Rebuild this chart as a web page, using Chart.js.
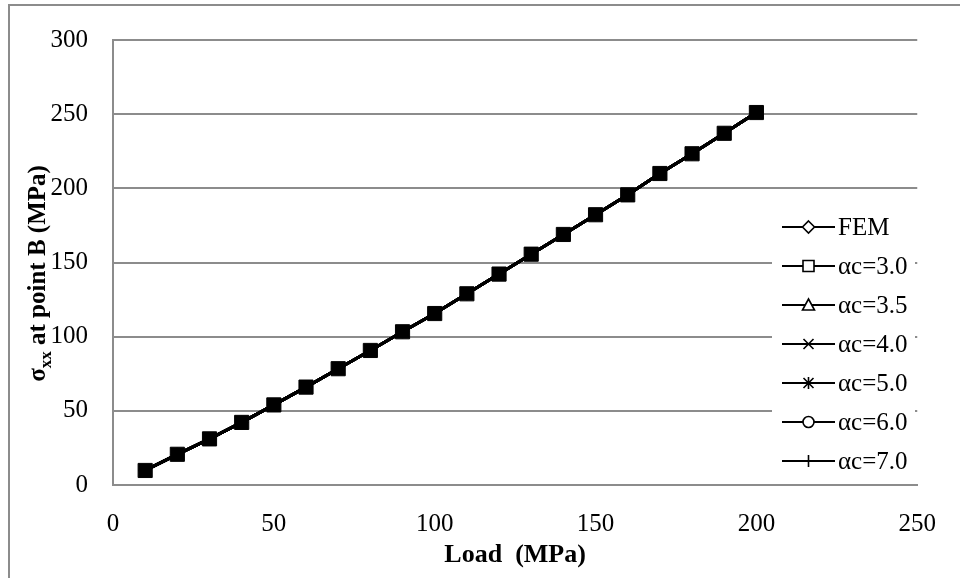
<!DOCTYPE html>
<html>
<head>
<meta charset="utf-8">
<script src="https://cdn.jsdelivr.net/npm/chart.js@4.4.1/dist/chart.umd.min.js"></script>
<style>
html,body{margin:0;padding:0;background:#fff;}
#wrap{width:960px;height:578px;position:relative;}
</style>
</head>
<body>
<div id="wrap"><canvas id="c" width="960" height="578"></canvas></div>
<script>
// ---- data ----
const loads = [10,20,30,40,50,60,70,80,90,100,110,120,130,140,150,160,170,180,190,200];
const fem   = [9.8,20.7,31.1,42.2,54.0,66.0,78.4,90.7,103.3,115.6,128.9,142.2,155.6,168.9,182.2,195.6,210.0,223.3,237.1,251.1];
const ac30  = [9.8,20.7,31.1,42.2,54.0,66.0,78.4,90.7,103.3,115.6,128.9,142.2,155.6,168.9,182.2,195.6,210.0,223.3,237.1,251.1];
const ac35  = [9.8,20.7,31.1,42.2,54.0,66.0,78.4,90.7,103.3,115.6,128.9,142.2,155.6,168.9,182.2,195.6,210.0,223.3,237.1,251.1];
const ac40  = [9.8,20.7,31.1,42.2,54.0,66.0,78.4,90.7,103.3,115.6,128.9,142.2,155.6,168.9,182.2,195.6,210.0,223.3,237.1,251.1];
const ac50  = [9.8,20.7,31.1,42.2,54.0,66.0,78.4,90.7,103.3,115.6,128.9,142.2,155.6,168.9,182.2,195.6,210.0,223.3,237.1,251.1];
const ac60  = [9.8,20.7,31.1,42.2,54.0,66.0,78.4,90.7,103.3,115.6,128.9,142.2,155.6,168.9,182.2,195.6,210.0,223.3,237.1,251.1];
const ac70  = [9.8,20.7,31.1,42.2,54.0,66.0,78.4,90.7,103.3,115.6,128.9,142.2,155.6,168.9,182.2,195.6,210.0,223.3,237.1,251.1];
const seriesNames = ['FEM','\u03b1c=3.0','\u03b1c=3.5','\u03b1c=4.0','\u03b1c=5.0','\u03b1c=6.0','\u03b1c=7.0'];
const seriesValues = [fem, ac30, ac35, ac40, ac50, ac60, ac70];
const markerStyles = ['rectRot','rect','triangle','crossRot','star','circle','cross'];
const xTitle = 'Load  (MPa)';
const yTitleMain = '\u03c3';
const yTitleSub = 'xx';
const yTitleRest = ' at point B (MPa)';

const GRID = '#8c8c8c';
const SERIF = "'Liberation Serif','Times New Roman',serif";

const datasets = seriesNames.map((name, i) => ({
  label: name,
  data: loads.map((x, j) => ({x: x, y: seriesValues[i][j]})),
  borderColor: '#000',
  borderWidth: 3,
  pointStyle: markerStyles[i],
  pointRadius: markerStyles[i] === 'rect' ? 10 : 6,
  pointBackgroundColor: '#000',
  pointBorderColor: '#000',
  pointBorderWidth: 1,
  fill: false,
  tension: 0
}));

function drawMarker(ctx, style, x, y) {
  ctx.save();
  ctx.strokeStyle = '#000';
  ctx.fillStyle = '#fff';
  ctx.lineWidth = 1.6;
  const r = 6;
  ctx.beginPath();
  switch (style) {
    case 'rectRot':
      ctx.moveTo(x, y - r); ctx.lineTo(x + r, y); ctx.lineTo(x, y + r); ctx.lineTo(x - r, y); ctx.closePath();
      ctx.fill(); ctx.stroke(); break;
    case 'rect':
      ctx.rect(x - 5.5, y - 5.5, 11, 11); ctx.fill(); ctx.stroke(); break;
    case 'triangle':
      ctx.moveTo(x, y - 6); ctx.lineTo(x + 6, y + 5); ctx.lineTo(x - 6, y + 5); ctx.closePath();
      ctx.fill(); ctx.stroke(); break;
    case 'crossRot':
      ctx.moveTo(x - 5, y - 5); ctx.lineTo(x + 5, y + 5); ctx.moveTo(x + 5, y - 5); ctx.lineTo(x - 5, y + 5);
      ctx.stroke(); break;
    case 'star':
      ctx.moveTo(x - 5, y - 5); ctx.lineTo(x + 5, y + 5); ctx.moveTo(x + 5, y - 5); ctx.lineTo(x - 5, y + 5);
      ctx.moveTo(x, y - 6); ctx.lineTo(x, y + 6);
      ctx.stroke(); break;
    case 'circle':
      ctx.arc(x, y, 5.5, 0, Math.PI * 2); ctx.fill(); ctx.stroke(); break;
    case 'cross':
      ctx.moveTo(x, y - 6); ctx.lineTo(x, y + 6);
      ctx.stroke(); break;
  }
  ctx.restore();
}

const decor = {
  id: 'decor',
  beforeDraw(chart) {
    const ctx = chart.ctx;
    ctx.save();
    ctx.fillStyle = '#fff';
    ctx.fillRect(0, 0, chart.width, chart.height);
    ctx.strokeStyle = GRID;
    ctx.lineWidth = 2;
    ctx.strokeRect(9, 5, 1200, 1200);
    ctx.restore();
  },
  afterDraw(chart) {
    const ctx = chart.ctx;
    const ca = chart.chartArea;
    ctx.save();
    // x title
    ctx.fillStyle = '#000';
    ctx.font = 'bold 26px ' + SERIF;
    ctx.textAlign = 'center';
    ctx.textBaseline = 'middle';
    ctx.fillText(xTitle, (ca.left + ca.right) / 2, 555);
    // y title with subscript
    const mainFont = 'bold 25px ' + SERIF;
    const subFont = 'bold 17px ' + SERIF;
    ctx.font = mainFont; const w1 = ctx.measureText(yTitleMain).width;
    const w3 = ctx.measureText(yTitleRest).width;
    ctx.font = subFont; const w2 = ctx.measureText(yTitleSub).width;
    const total = w1 + w2 + w3;
    ctx.translate(36, (ca.top + ca.bottom) / 2 + 11);
    ctx.rotate(-Math.PI / 2);
    ctx.textAlign = 'left';
    ctx.textBaseline = 'alphabetic';
    let px = -total / 2;
    const base = 9;
    ctx.font = mainFont; ctx.fillText(yTitleMain, px, base); px += w1;
    ctx.font = subFont; ctx.fillText(yTitleSub, px, base + 6); px += w2;
    ctx.font = mainFont; ctx.fillText(yTitleRest, px, base);
    ctx.restore();

    // legend inside plot area
    ctx.save();
    ctx.fillStyle = '#fff';
    ctx.fillRect(772, 207, 143, 274);
    const rowY0 = 227, rowGap = 39;
    seriesNames.forEach((name, i) => {
      const y = rowY0 + i * rowGap;
      ctx.strokeStyle = '#000';
      ctx.lineWidth = 2;
      ctx.beginPath(); ctx.moveTo(782, y); ctx.lineTo(835, y); ctx.stroke();
      drawMarker(ctx, markerStyles[i], 808.5, y);
      ctx.fillStyle = '#000';
      ctx.font = '25px ' + SERIF;
      ctx.textAlign = 'left';
      ctx.textBaseline = 'middle';
      ctx.fillText(name, 838, y + 1);
    });
    ctx.restore();
  }
};

new Chart(document.getElementById('c'), {
  type: 'line',
  data: { datasets: datasets },
  options: {
    responsive: false,
    animation: false,
    devicePixelRatio: 1,
    layout: { padding: { top: 35, right: 29, left: 0, bottom: 0 } },
    plugins: { legend: { display: false }, tooltip: { enabled: false } },
    scales: {
      x: {
        type: 'linear', min: 0, max: 250,
        ticks: { stepSize: 50, color: '#000', font: { family: SERIF, size: 25 }, padding: 24, maxRotation: 0 },
        grid: { color: 'rgba(0,0,0,0)', drawTicks: false },
        border: { display: true, color: GRID, width: 2 },
        afterFit(s) { s.height = 93; }
      },
      y: {
        type: 'linear', min: 0, max: 300,
        ticks: { stepSize: 50, color: '#000', font: { family: SERIF, size: 25 }, padding: 25 },
        grid: { color: GRID, lineWidth: 2, drawTicks: false },
        border: { display: true, color: GRID, width: 2 },
        afterFit(s) { s.width = 113; }
      }
    }
  },
  plugins: [decor]
});
</script>
</body>
</html>
